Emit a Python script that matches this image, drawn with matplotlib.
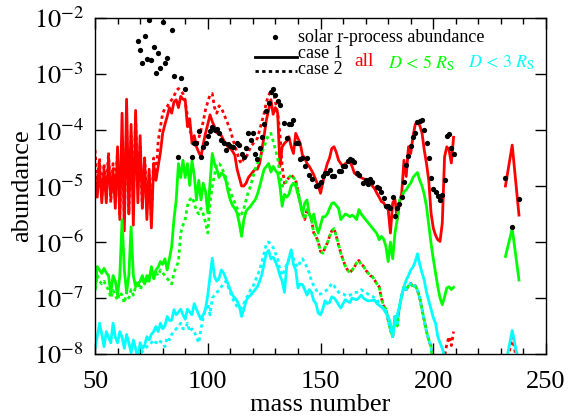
import numpy as np
import matplotlib
matplotlib.use('Agg')
import matplotlib.pyplot as plt
from matplotlib.ticker import MultipleLocator, LogLocator, NullFormatter

plt.rcParams['font.family'] = ['Liberation Serif', 'DejaVu Serif']
plt.rcParams['mathtext.fontset'] = 'stix'

# mass numbers of the model curves
mass = list(range(50, 210))
mass_act = [232, 235, 238]

# log10 abundances, case 1 (solid) and case 2 (dotted)
red_solid = [
    -4.85, -5.2, -4.6, -5.3, -4.7, -5.3, -4.5, -5.2, -4.7, -5.4,
    -4.3, -5.6, -3.7, -5.8, -3.45, -5.5, -3.9, -5.7, -3.65, -5.3,
    -4.1, -5.4, -4.5, -5.6, -4.7, -5.75, -4.6, -4.9, -4.65, -4.4,
    -4.06, -3.9, -3.76, -3.6, -3.7, -3.5, -3.46, -3.6, -3.4, -3.45,
    -3.46, -3.94, -3.8, -4.24, -4.1, -4.3, -4.4, -4.48, -4.25, -4.06,
    -3.9, -3.73, -3.85, -3.94, -4.05, -4.06, -4.1, -4.18, -4.25, -4.3,
    -4.33, -4.38, -4.45, -4.7, -4.85, -5.0, -5.0, -4.95, -4.85, -4.8,
    -4.75, -4.7, -4.7, -4.6, -4.36, -4.1, -3.82, -3.64, -3.46, -3.72,
    -3.6, -3.7, -4.65, -4.3, -4.24, -4.2, -4.12, -4.3, -4.42, -4.06,
    -4.15, -4.24, -4.45, -4.5, -4.6, -4.65, -4.72, -4.8, -4.9, -5.0,
    -5.13, -4.95, -4.75, -4.6, -4.5, -4.33, -4.3, -4.4, -4.54, -4.6,
    -4.65, -4.6, -4.58, -4.56, -4.65, -4.77, -4.8, -4.83, -4.85, -4.87,
    -4.89, -4.92, -4.95, -5.0, -5.05, -5.13, -5.2, -5.28, -5.3, -5.38,
    -5.42, -5.84, -5.3, -5.24, -5.6, -5.3, -5.13, -4.54, -4.83, -4.3,
    -4.42, -4.12, -3.9, -3.85, -3.92, -4.05, -4.36, -4.6, -4.9, -5.48,
    -5.75, -5.88, -5.96, -5.99, -5.66, -4.48, -4.3, -4.36, -4.59, -4.13,
]
red_dotted = [
    -4.36, -4.9, -4.5, -5.2, -4.6, -5.1, -4.4, -5.3, -4.6, -5.0,
    -4.4, -5.5, -4.2, -5.6, -3.9, -5.5, -4.1, -5.2, -3.8, -5.0,
    -4.3, -5.4, -4.5, -5.2, -4.8, -5.6, -4.5, -4.9, -4.2, -3.95,
    -3.7, -3.62, -3.58, -3.52, -3.46, -3.4, -3.3, -3.26, -3.3, -3.35,
    -3.5, -3.75, -4.0, -4.1, -4.25, -4.3, -4.15, -4.0, -3.85, -3.64,
    -3.5, -3.37, -3.35, -3.6, -3.7, -3.57, -3.6, -3.7, -3.8, -3.9,
    -4.0, -4.15, -4.28, -4.4, -4.54, -4.6, -4.5, -4.5, -4.4, -4.3,
    -4.25, -4.2, -4.15, -4.0, -3.85, -3.7, -3.5, -3.38, -3.3, -3.28,
    -3.5, -3.7, -4.06, -4.65, -4.95, -4.9, -4.85, -4.8, -4.85, -4.9,
    -5.1, -5.3, -5.48, -5.6, -5.42, -5.5, -5.6, -5.84, -5.9, -6.0,
    -6.17, -6.2, -6.1, -6.02, -5.9, -5.8, -5.76, -5.9, -6.05, -6.2,
    -6.32, -6.43, -6.5, -6.55, -6.5, -6.45, -6.37, -6.33, -6.4, -6.43,
    -6.5, -6.55, -6.6, -6.62, -6.68, -6.75, -6.8, -7.0, -7.15, -7.2,
    -7.39, -7.57, -7.69, -7.33, -7.5, -7.16, -6.96, -6.8, -6.85, -6.78,
    -6.74, -6.8, -6.78, -6.86, -7.0, -7.2, -7.39, -7.6, -7.75, -7.87,
    -8.1, -8.3, -8.5, -8.6, -8.5, -8.05, -7.82, -7.69, -7.85, -7.6,
]
green_solid = [
    -6.85, -6.44, -6.5, -6.56, -6.47, -6.55, -6.6, -6.92, -6.6, -6.7,
    -6.95, -6.6, -5.6, -6.5, -6.9, -6.6, -5.73, -6.6, -6.8, -6.75,
    -6.7, -6.6, -6.75, -6.6, -6.7, -6.44, -6.65, -6.5, -6.45, -6.35,
    -6.4, -6.3, -6.5, -6.3, -6.08, -5.6, -5.25, -4.6, -4.85, -4.54,
    -4.85, -4.6, -4.99, -4.55, -4.8, -5.25, -4.9, -5.25, -4.95, -5.1,
    -5.48, -4.95, -4.42, -4.6, -4.7, -4.85, -4.77, -4.8, -4.9, -5.1,
    -5.25, -5.35, -5.4, -5.48, -5.67, -5.9, -5.6, -5.45, -5.4, -5.36,
    -5.3, -5.25, -5.15, -5.01, -4.85, -4.7, -4.65, -4.6, -4.75, -4.65,
    -4.72, -4.77, -5.0, -5.36, -5.15, -5.2, -5.15, -5.0, -4.95, -5.0,
    -5.15, -5.3, -5.5, -5.3, -5.25, -5.5, -5.6, -5.5, -5.7, -5.84,
    -5.7, -5.55, -5.55, -5.5, -5.4, -5.31, -5.3, -5.35, -5.4, -5.6,
    -5.55, -5.5, -5.52, -5.55, -5.52, -5.55, -5.6, -5.42, -5.5, -5.55,
    -5.6, -5.65, -5.7, -5.75, -5.8, -5.85, -5.96, -5.9, -5.95, -6.08,
    -6.35, -6.0, -6.3, -5.84, -5.6, -5.25, -5.2, -5.1, -5.07, -5.0,
    -4.95, -4.85, -4.8, -4.76, -4.9, -5.0, -5.15, -5.37, -5.7, -6.02,
    -6.3, -6.55, -6.8, -7.0, -7.12, -6.98, -6.82, -6.8, -6.85, -6.81,
]
# green dotted up to A=134; beyond it lies on the red dotted curve
green_dotted_low = [
    -6.9, -6.6, -6.7, -6.75, -6.7, -6.8, -6.85, -7.0, -6.86, -6.95,
    -7.04, -6.9, -6.95, -7.09, -6.9, -7.0, -6.85, -6.95, -6.8, -6.7,
    -6.85, -6.75, -6.65, -6.7, -6.6, -6.62, -6.66, -6.55, -6.6, -6.5,
    -6.55, -6.6, -6.65, -6.7, -6.75, -6.55, -6.45, -6.35, -5.84, -5.7,
    -5.6, -5.35, -5.25, -5.2, -5.3, -5.45, -5.5, -5.4, -5.5, -5.65,
    -5.84, -5.3, -5.0, -4.8, -4.6, -4.6, -4.65, -4.75, -4.85, -5.0,
    -5.1, -5.2, -5.3, -5.4, -5.55, -5.5, -5.4, -5.25, -5.1, -5.0,
    -4.85, -4.7, -4.6, -4.54, -4.4, -4.3, -4.18, -4.08, -4.06, -4.2,
    -4.35, -4.5, -4.8, -5.0, -5.0,
]
green_dotted = green_dotted_low + red_dotted[85:150] + [-8.3] * 10
cyan_solid = [
    -7.9, -7.69, -7.45, -7.65, -7.87, -7.6, -7.7, -7.8, -7.45, -7.7,
    -7.8, -7.6, -7.7, -7.9, -7.65, -7.8, -7.98, -7.75, -7.9, -8.1,
    -7.8, -7.9, -7.85, -7.69, -7.75, -7.65, -7.6, -7.51, -7.6, -7.45,
    -7.55, -7.5, -7.33, -7.4, -7.4, -7.21, -7.3, -7.25, -7.2, -7.3,
    -7.38, -7.2, -7.25, -7.3, -7.1, -7.2, -7.3, -7.38, -7.3, -7.2,
    -6.95, -6.62, -6.29, -6.62, -6.7, -6.65, -6.5, -6.55, -6.65, -6.75,
    -6.86, -6.95, -7.0, -7.05, -7.15, -7.33, -7.2, -7.05, -6.98, -6.95,
    -6.9, -6.85, -6.8, -6.7, -6.58, -6.38, -6.2, -6.15, -6.3, -6.27,
    -6.35, -6.45, -6.6, -6.7, -6.9, -6.44, -6.3, -6.14, -6.4, -6.5,
    -6.82, -6.75, -6.76, -6.85, -6.95, -6.85, -6.9, -7.05, -7.1, -7.27,
    -7.3, -7.2, -7.05, -7.1, -7.08, -6.98, -7.0, -7.05, -7.12, -7.18,
    -7.1, -7.03, -7.06, -7.08, -7.0, -7.02, -7.03, -7.0, -6.95, -7.0,
    -7.03, -7.05, -7.05, -7.04, -7.04, -7.1, -7.13, -7.16, -7.2, -7.27,
    -7.33, -7.45, -7.69, -7.4, -7.3, -7.16, -6.95, -6.8, -6.68, -6.6,
    -6.5, -6.45, -6.35, -6.21, -6.4, -6.55, -6.68, -6.9, -7.05, -7.2,
    -7.35, -7.45, -7.69, -7.8, -7.9, -8.05, -8.2, -8.3, -8.4, -8.5,
]
# cyan dotted up to A=178; beyond it lies on the red dotted curve
cyan_dotted_low = [
    -8.3, -8.2, -8.35, -8.25, -8.4, -8.2, -8.3, -8.25, -8.3, -8.2,
    -8.35, -8.2, -8.3, -8.25, -8.2, -8.3, -8.15, -8.2, -8.1, -8.05,
    -8.05, -7.95, -7.9, -7.87, -7.85, -7.8, -7.75, -7.8, -7.75, -7.78,
    -7.8, -7.87, -7.7, -7.75, -7.65, -7.6, -7.55, -7.5, -7.45, -7.55,
    -7.55, -7.45, -7.6, -7.55, -7.6, -7.7, -7.8, -7.55, -7.35, -7.2,
    -7.1, -7.3, -7.0, -6.95, -6.9, -6.86, -6.8, -6.75, -6.7, -6.8,
    -6.9, -7.0, -7.1, -7.15, -7.2, -7.18, -7.1, -7.0, -6.95, -6.85,
    -6.8, -6.7, -6.6, -6.5, -6.35, -6.2, -6.03, -6.0, -6.05, -6.1,
    -6.2, -6.3, -6.5, -6.6, -6.5, -6.4, -6.3, -6.14, -6.3, -6.4,
    -6.45, -6.35, -6.3, -6.38, -6.45, -6.55, -6.7, -6.78, -6.85, -6.93,
    -6.93, -6.9, -6.88, -6.85, -6.8, -6.74, -6.78, -6.85, -6.9, -6.92,
    -6.93, -6.95, -6.97, -6.95, -6.93, -6.9, -6.9, -6.88, -6.85, -6.88,
    -6.9, -6.93, -6.95, -6.97, -7.0, -7.02, -7.1, -7.15, -7.18,
]
cyan_dotted = cyan_dotted_low + red_dotted[129:150] + [-8.3] * 10

# actinides (A = 232, 235, 238)
red_solid_act = [-5.0, -4.27, -5.52]
red_dotted_act = [-8.3, -7.7, -8.3]
green_solid_act = [-6.26, -5.76, -6.68]
cyan_solid_act = [-8.2, -7.58, -8.2]

# solar r-process abundance (log10)
solar_A = [69, 70, 71, 72, 73, 74, 75, 76, 77, 78, 79, 80, 81, 82, 84, 85, 87, 88, 90,
           93, 94, 95, 96, 97, 98, 99, 100, 101, 102, 103, 104, 105, 106, 107, 108, 109,
           110, 111, 113, 114, 115, 116, 117, 118, 119, 120, 121, 122, 123, 124, 125, 126,
           127, 128, 129, 130, 131, 132, 134, 135, 136, 137, 138, 139, 140, 141, 142, 143,
           144, 145, 146, 148, 149, 150, 151, 152, 153, 154, 155, 156, 158, 159, 160, 161,
           162, 163, 164, 165, 166, 167, 169, 170, 171, 172, 173, 175, 176, 177, 178, 179,
           180, 181, 182, 183, 184, 185, 186, 187, 188, 189, 190, 191, 192, 193, 194, 195,
           196, 197, 198, 199, 200, 201, 202, 203, 204, 205, 206, 207, 208, 209,
           232, 235, 238]
solar_log = [-2.41, -2.58, -2.80, -2.32, -2.73, -2.04, -2.75, -2.51, -2.99, -2.62, -2.90,
             -2.08, -2.81, -2.72, -2.21, -3.04, -4.48, -3.07, -3.27,
             -4.48, -4.23, -4.23, -4.01, -4.49, -4.31, -4.23, -4.11, -4.01, -3.94, -4.0,
             -3.98, -4.05, -4.18, -4.23, -4.36, -4.25, -4.29, -4.31, -4.24, -4.27, -4.42,
             -4.49, -4.32, -4.06, -4.18, -4.05, -4.43, -4.51, -4.33, -4.13, -3.89, -3.66,
             -3.52, -3.32, -3.27, -3.38, -3.49, -3.56, -3.87, -4.14, -3.89, -3.89, -3.82,
             -4.24, -4.24, -4.51, -4.50, -4.65, -4.50, -4.80, -4.87, -5.0, -4.99, -4.92,
             -4.83, -4.77, -4.77, -4.71, -4.82, -4.82, -4.74, -4.73, -4.64, -4.65, -4.56,
             -4.51, -4.54, -4.58, -4.76, -4.81, -4.95, -4.90, -4.96, -4.88, -4.92, -5.02,
             -5.04, -5.11, -5.21, -5.36, -5.36, -5.40, -5.20, -5.54, -5.40, -5.32, -5.20,
             -4.93, -4.62, -4.46, -4.29, -4.13, -4.05, -3.86, -3.84, -3.82, -4.0, -4.23,
             -4.50, -4.85, -5.05, -5.11, -5.18, -5.25, -5.16, -4.89, -4.10, -4.08, -4.32,
             -4.42, -4.86, -5.73, -5.23]

ytick_vals = [1e-8, 1e-7, 1e-6, 1e-5, 1e-4, 1e-3, 1e-2]
ytick_labels = [r'$10^{-8}$', r'$10^{-7}$', r'$10^{-6}$', r'$10^{-5}$',
                r'$10^{-4}$', r'$10^{-3}$', r'$10^{-2}$']

RED = '#ff0000'
GREEN = '#00ff00'
CYAN = '#00ffff'
LW = 2.0


def p(v):
    return 10.0 ** np.array(v)


fig = plt.figure(figsize=(5.85, 4.17), dpi=100)
ax = fig.add_axes([0.1624, 0.1511, 0.771, 0.8058])

dot_a = (0, (1.2, 1.2))
dot_b = (1.2, (1.2, 1.2))
dot_c = (0.6, (1.2, 1.2))

ax.plot(mass, p(red_solid), color=RED, lw=LW)
ax.plot(mass_act, p(red_solid_act), color=RED, lw=LW)
ax.plot(mass, p(red_dotted), color=RED, lw=LW, ls=dot_a)
ax.plot(mass_act, p(red_dotted_act), color=RED, lw=LW, ls=dot_a)
ax.plot(mass, p(green_solid), color=GREEN, lw=LW)
ax.plot(mass_act, p(green_solid_act), color=GREEN, lw=LW)
ax.plot(mass, p(green_dotted), color=GREEN, lw=LW, ls=dot_b)
ax.plot(mass, p(cyan_solid), color=CYAN, lw=LW)
ax.plot(mass_act, p(cyan_solid_act), color=CYAN, lw=LW)
ax.plot(mass, p(cyan_dotted), color=CYAN, lw=LW, ls=dot_c)
ax.plot(solar_A, p(solar_log), 'o', color='black', ms=3.8, mec='none')

ax.set_yscale('log')
ax.set_xlim(50, 250)
ax.set_ylim(1e-8, 1e-2)
ax.set_yticks(ytick_vals)
ax.set_yticklabels(ytick_labels)
ax.yaxis.set_minor_locator(LogLocator(base=10, subs=np.arange(2, 10)))
ax.yaxis.set_minor_formatter(NullFormatter())
ax.xaxis.set_major_locator(MultipleLocator(50))
ax.xaxis.set_minor_locator(MultipleLocator(10))
ax.tick_params(which='both', direction='in', top=True, right=True, width=1)
ax.tick_params(which='major', length=8, labelsize=19)
ax.tick_params(axis='x', which='major', pad=12)
ax.tick_params(axis='y', which='major', pad=8)
ax.tick_params(which='minor', length=4)
for s in ax.spines.values():
    s.set_linewidth(1)

ax.set_xlabel('mass number', fontsize=19, labelpad=1)
ax.set_ylabel('abundance', fontsize=19, labelpad=0)

# legend, drawn by hand
tr = ax.transAxes
ax.plot([0.399], [0.943], 'o', color='black', ms=3.8, mec='none', transform=tr, clip_on=False)
ax.text(0.450, 0.943, 'solar r-process abundance', fontsize=13, va='center', transform=tr)
ax.plot([0.355, 0.448], [0.884, 0.884], color='black', lw=LW, transform=tr)
ax.text(0.450, 0.893, 'case 1', fontsize=13, va='center', transform=tr)
ax.plot([0.355, 0.448], [0.843, 0.843], color='black', lw=LW, ls=dot_a, transform=tr)
ax.text(0.450, 0.846, 'case 2', fontsize=13, va='center', transform=tr)
ax.text(0.576, 0.870, 'all', fontsize=14, color=RED, va='center', transform=tr)
ax.text(0.650, 0.866, r'$D\,<\,5\;R_{\rm S}$', fontsize=13, color=GREEN, va='center', transform=tr)
ax.text(0.827, 0.866, r'$D\,<\,3\;R_{\rm S}$', fontsize=13, color=CYAN, va='center', transform=tr)

fig.savefig('out.png', dpi=100)
